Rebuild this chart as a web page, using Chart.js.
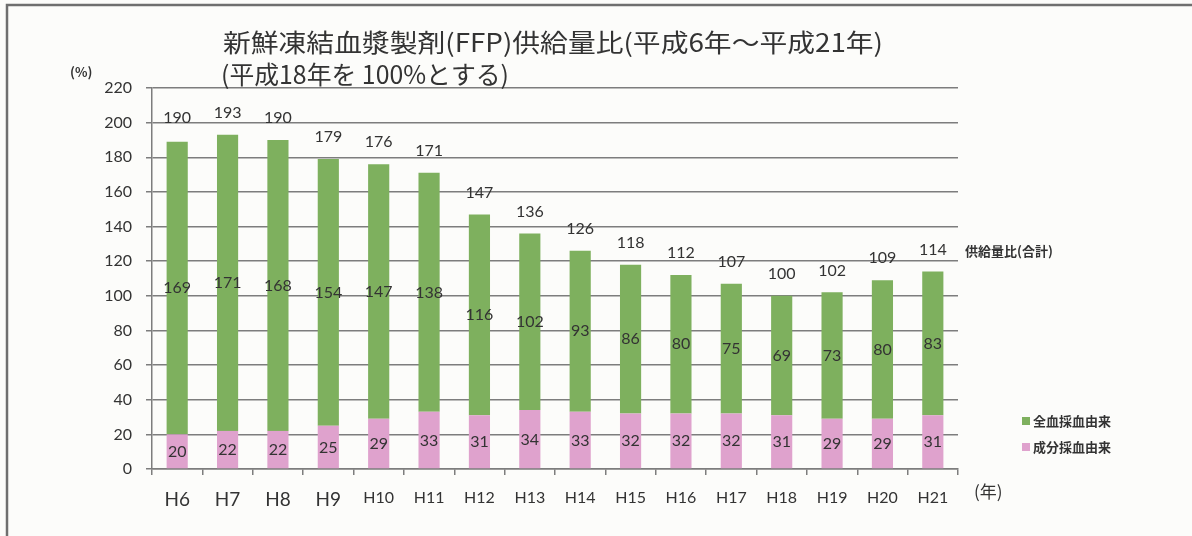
<!DOCTYPE html>
<html><head><meta charset="utf-8">
<script src="https://cdn.jsdelivr.net/npm/chart.js@4/dist/chart.umd.min.js"></script>
<style>
html,body{margin:0;padding:0;background:#fcfcfa;}
#wrap{position:relative;width:1192px;height:536px;}
canvas{display:block;}
</style></head>
<body><div id="wrap"><canvas id="c" width="1192" height="536"></canvas></div>
<script>
const categories = ['H6','H7','H8','H9','H10','H11','H12','H13','H14','H15','H16','H17','H18','H19','H20','H21'];
const componentValues = [20,22,22,25,29,33,31,34,33,32,32,32,31,29,29,31];
const wholeBloodValues = [169,171,168,154,147,138,116,102,93,86,80,75,69,73,80,83];
const totalValues = [190,193,190,179,176,171,147,136,126,118,112,107,100,102,109,114];
const yTicks = [0,20,40,60,80,100,120,140,160,180,200,220];
const seriesNames = ['全血採血由来','成分採血由来'];
const titleLine1 = '新鮮凍結血漿製剤(FFP)供給量比(平成6年～平成21年)';
const titleLine2 = '(平成18年を 100%とする)';

const GREEN = '#7eb05e';
const PINK = '#dfa2cd';
const TXT = '#333333';
const GRID = '#7d7d7d';
const latin = 'Lato, "Open Sans", sans-serif';
const numFont = '16px ' + latin;
const jpFont = '"Noto Sans CJK JP", sans-serif';

function fitText(ctx, text, x, y, targetWidth) {
  const w = ctx.measureText(text).width;
  ctx.save();
  ctx.translate(x, y);
  ctx.scale(targetWidth / w, 1);
  ctx.fillText(text, 0, 0);
  ctx.restore();
}

const labelPlugin = {
  id: 'labels',
  afterDatasetsDraw(chart) {
    const ctx = chart.ctx;
    const greenMeta = chart.getDatasetMeta(1);
    const y = chart.scales.y;
    ctx.save();
    ctx.fillStyle = TXT;
    ctx.font = numFont;
    ctx.textAlign = 'center';
    ctx.textBaseline = 'middle';
    categories.forEach((c, i) => {
      const x = greenMeta.data[i].x;
      const p = componentValues[i], g = wholeBloodValues[i];
      ctx.fillText(String(p), x, y.getPixelForValue(p / 2));
      ctx.fillText(String(g), x, y.getPixelForValue(p + g / 2));
      ctx.fillText(String(totalValues[i]), x, y.getPixelForValue(totalValues[i]) - 22);
    });
    ctx.restore();
  },
  afterDraw(chart) {
    const ctx = chart.ctx;
    ctx.save();
    // frame
    ctx.strokeStyle = '#6f6f6f';
    ctx.lineWidth = 2.5;
    ctx.beginPath();
    ctx.moveTo(7, 536); ctx.lineTo(7, 5); ctx.lineTo(1192, 5);
    ctx.stroke();
    // title
    ctx.fillStyle = TXT;
    ctx.textAlign = 'left';
    ctx.textBaseline = 'middle';
    ctx.font = '25px ' + jpFont;
    fitText(ctx, titleLine1, 223, 42, 660);
    fitText(ctx, titleLine2, 221, 74, 288);
    // axis units
    ctx.font = 'bold 13px ' + jpFont;
    ctx.fillText('(%)', 70, 72);
    ctx.font = '17px ' + jpFont;
    ctx.fillText('(年)', 974, 492);
    // total series label
    ctx.font = 'bold 13px ' + jpFont;
    ctx.fillText('供給量比(合計)', 965, 251);
    // legend
    const leg = [[seriesNames[0], GREEN, 421], [seriesNames[1], PINK, 447]];
    leg.forEach(([name, col, yy]) => {
      ctx.fillStyle = col;
      ctx.fillRect(1022, yy - 4, 8, 8);
      ctx.fillStyle = TXT;
      ctx.fillText(name, 1033, yy);
    });
    ctx.restore();
  }
};

new Chart(document.getElementById('c'), {
  type: 'bar',
  data: {
    labels: categories,
    datasets: [
      { label: seriesNames[1], data: componentValues, backgroundColor: PINK, barPercentage: 0.42, categoryPercentage: 1.0 },
      { label: seriesNames[0], data: wholeBloodValues, backgroundColor: GREEN, barPercentage: 0.42, categoryPercentage: 1.0 }
    ]
  },
  options: {
    responsive: false,
    animation: false,
    layout: { padding: { left: 0, right: 234, top: 88, bottom: 0 } },
    plugins: { legend: { display: false }, tooltip: { enabled: false }, title: { display: false } },
    scales: {
      x: {
        stacked: true,
        grid: { display: true, drawOnChartArea: false, offset: true, color: GRID, lineWidth: 1.5, tickLength: 6 },
        border: { color: GRID, width: 1.5 },
        ticks: {
          color: TXT,
          font: (c) => ({ size: c.index < 4 ? 19 : 16, family: latin }),
          padding: 13
        },
        afterFit(s) { s.height = 67; }
      },
      y: {
        stacked: true,
        min: 0, max: 220,
        afterBuildTicks(s) { s.ticks = yTicks.map(v => ({ value: v })); },
        grid: { color: GRID, lineWidth: 1.5, tickLength: 6 },
        border: { color: GRID, width: 1.5 },
        ticks: { color: TXT, font: { size: 16, family: latin }, padding: 14 },
        afterFit(s) { s.width = 152; }
      }
    }
  },
  plugins: [labelPlugin]
});
</script></body></html>
